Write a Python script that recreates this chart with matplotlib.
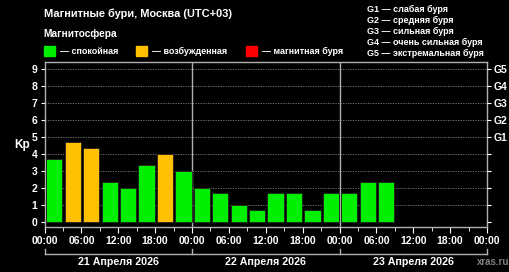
import matplotlib
matplotlib.use('Agg')

import matplotlib.pyplot as plt
import matplotlib.transforms as mtransforms
import numpy as np

# Kp по трёхчасовым интервалам, начиная с 21 апреля 00:00
kp_values = [3.67, 4.67, 4.33, 2.33, 2.0, 3.33, 4.0, 3.0,
             2.0, 1.67, 1.0, 0.67, 1.67, 1.67, 0.67, 1.67,
             1.67, 2.33, 2.33]
days = ['21 Апреля 2026', '22 Апреля 2026', '23 Апреля 2026']
hour_labels = ['00:00', '06:00', '12:00', '18:00']
g_labels = ['G1', 'G2', 'G3', 'G4', 'G5']
g_names = ['слабая буря', 'средняя буря', 'сильная буря',
           'очень сильная буря', 'экстремальная буря']
legend_names = ['— спокойная', '— возбужденная', '— магнитная буря']
legend_colors = ['#00ee00', '#ffc000', '#ff0000']

plt.rcParams['font.family'] = ['Liberation Sans', 'DejaVu Sans']
plt.rcParams['font.weight'] = 'bold'


def kp_color(kp):
    if kp < 4:
        return legend_colors[0]
    if kp < 5:
        return legend_colors[1]
    return legend_colors[2]


fig = plt.figure(figsize=(5.1, 2.72), dpi=100, facecolor='black')
ax = fig.add_axes([0.0873, 0.1665, 0.8676, 0.6055], facecolor='black')

x = np.arange(len(kp_values)) * 3 + 1.6
ax.bar(x, kp_values, width=2.65, color=[kp_color(v) for v in kp_values],
       edgecolor='#202020', linewidth=0.6, zorder=3)

ax.set_xlim(0, 72)
ax.set_ylim(-0.3, 9.4)

# сетка
for k in range(1, 10):
    ax.axhline(k, color='#808080', linestyle=(0, (1.5, 1.5)), linewidth=0.6, zorder=1)
for d in (24, 48):
    ax.axvline(d, color='#b0b0b0', linewidth=1.0, zorder=2)

for side in ['left', 'right', 'bottom', 'top']:
    ax.spines[side].set_color('#b0b0b0')
    ax.spines[side].set_linewidth(1.0)

# оси
ax.set_yticks(range(10))
ax.tick_params(axis='y', colors='white', labelsize=7.5, length=3, pad=2)
ax.set_xticks(np.arange(0, 73, 6))
ax.set_xticklabels(hour_labels * 3 + ['00:00'])
ax.set_xticks(np.arange(0, 73, 3), minor=True)
ax.tick_params(axis='x', which='both', colors='white', labelsize=7.5, length=4, pad=3)
ax.tick_params(axis='x', which='minor', length=3)
for lbl in ax.get_xticklabels() + ax.get_yticklabels():
    lbl.set_fontweight('bold')

ax2 = ax.twinx()
ax2.set_ylim(ax.get_ylim())
ax2.set_yticks(range(10))
ax2.set_yticklabels([''] * 5 + g_labels)
ax2.tick_params(axis='y', colors='white', labelsize=7.5, length=3, pad=2)
for lbl in ax2.get_yticklabels():
    lbl.set_fontweight('bold')
for side in ['left', 'right', 'bottom', 'top']:
    ax2.spines[side].set_visible(False)

fig.text(14 / 510, 1 - 145 / 272, 'Kp', color='white', fontsize=8.5, fontweight='bold',
         va='center', ha='left')

# скобки и даты под осью
trans = mtransforms.blended_transform_factory(ax.transData, ax.transAxes)
ax.plot([0, 72], [-0.166, -0.166], color='#b0b0b0', linewidth=1.0,
        transform=trans, clip_on=False)
for d in (0, 24, 48, 72):
    ax.plot([d, d], [-0.166, -0.135], color='#b0b0b0', linewidth=1.0,
            transform=trans, clip_on=False)
for i, day in enumerate(days):
    ax.text(i * 24 + 12, -0.214, day, color='white', fontsize=7.7, fontweight='bold',
            ha='center', va='center', transform=trans)

# заголовок и легенда
fig.text(0.086, 0.948, 'Магнитные бури, Москва (UTC+03)', color='white',
         fontsize=7.9, fontweight='bold', va='center')
fig.text(0.086, 0.875, 'Магнитосфера', color='white', fontsize=7.3,
         fontweight='bold', va='center')
legend_x = [44, 136.5, 246]
for lx, name, col in zip(legend_x, legend_names, legend_colors):
    fig.patches.append(plt.Rectangle((lx / 510, 1 - 56 / 272), 11 / 510, 10 / 272,
                                     transform=fig.transFigure, color=col))
    fig.text((lx + 16) / 510, 1 - 51 / 272, name, color='white', fontsize=6.5,
             fontweight='bold', va='center')

for i, (g, name) in enumerate(zip(g_labels, g_names)):
    fig.text(367 / 510, 1 - (9.5 + i * 11) / 272, g + ' — ' + name, color='white',
             fontsize=6.5, fontweight='bold', va='center')

fig.text(493 / 510, 1 - 262 / 272, 'xras.ru', color='#808080', fontsize=7,
         fontweight='bold', ha='center', va='center')

fig.savefig('out.png', dpi=100, facecolor='black')
